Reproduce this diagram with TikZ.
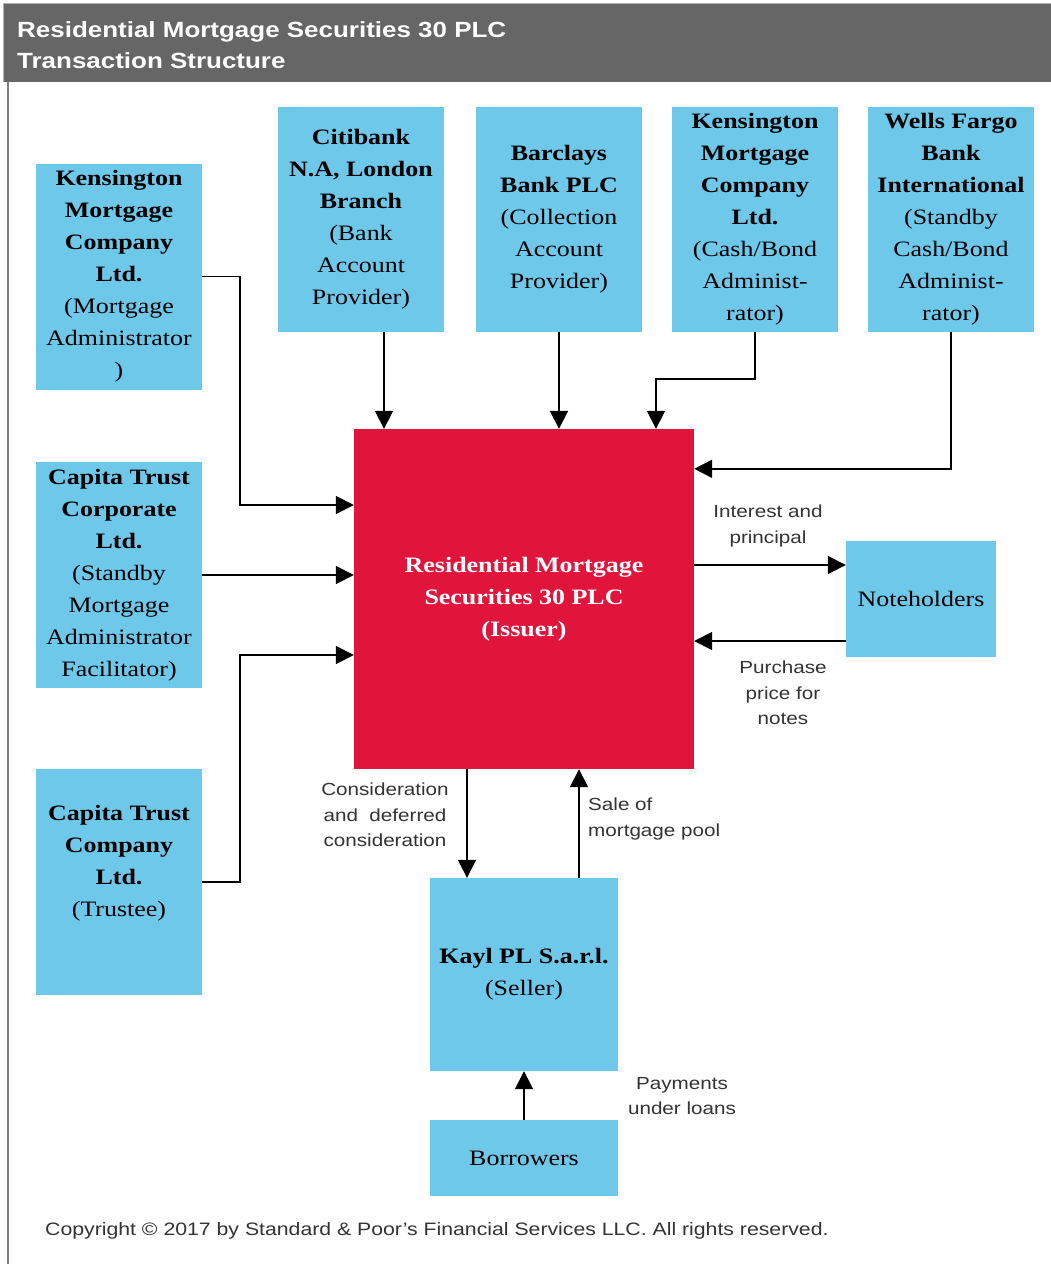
\documentclass[tikz,border=0pt]{standalone}
\usepackage{fontspec}
\setmainfont[FakeStretch=1.18]{Liberation Serif}
\setsansfont[FakeStretch=1.18]{Liberation Sans}
\usetikzlibrary{arrows.meta,positioning,calc}
\definecolor{rmsblue}{RGB}{110,200,234}
\definecolor{rmsred}{RGB}{225,20,59}
\definecolor{rmsgrey}{RGB}{102,102,102}

\begin{document}
\begin{tikzpicture}[x=1pt,y=-1pt,
    box/.style={fill=rmsblue,inner sep=0pt,minimum width=166pt,minimum height=226pt,
                align=center,font=\fontsize{22}{32}\selectfont},
    issuer/.style={fill=rmsred,inner sep=0pt,minimum width=340pt,minimum height=340pt,
                align=center,text=white,font=\fontsize{22}{32}\selectfont\bfseries},
    arr/.style={-{Triangle[length=18pt,width=18pt]},line width=1.8pt},
    lbl/.style={font=\sffamily\fontsize{17.5}{25.5}\selectfont,text=black!80,align=center,inner sep=0pt}
  ]
    \useasboundingbox (0,0) rectangle (1050,1264);
    % frame and title
    \fill[rmsgrey] (3,3) rectangle (1052,82);
    \draw[gray!60,line width=1pt] (3,82) -- (3,3) -- (1052,3);
    \draw[gray,line width=2.5pt] (8,82) -- (8,1264);
    \node[anchor=west,align=left,text=white,inner sep=0pt,
          font=\sffamily\bfseries\fontsize{22}{31}\selectfont] (title) at (17,45)
          {Residential Mortgage Securities 30 PLC\\Transaction Structure};

    % parties
    \node[box] (kadm) at (119,276.5) {\textbf{Kensington}\\\textbf{Mortgage}\\\textbf{Company}\\\textbf{Ltd.}\\(Mortgage\\Administrator\\)};
    \node[box] (ccorp) at (119,575) {\textbf{Capita Trust}\\\textbf{Corporate}\\\textbf{Ltd.}\\(Standby\\Mortgage\\Administrator\\Facilitator)};
    \node[box] (ccomp) at (119,882) {\textbf{Capita Trust}\\\textbf{Company}\\\textbf{Ltd.}\\(Trustee)\\\strut};
    \node[box,minimum height=225pt] (citi) at (361,219.5) {\textbf{Citibank}\\\textbf{N.A, London}\\\textbf{Branch}\\(Bank\\Account\\Provider)};
    \node[box,minimum height=225pt] (barc) at (559,219.5) {\textbf{Barclays}\\\textbf{Bank PLC}\\(Collection\\Account\\Provider)};
    \node[box,minimum height=225pt] (kcash) at (755,219.5) {\textbf{Kensington}\\\textbf{Mortgage}\\\textbf{Company}\\\textbf{Ltd.}\\(Cash/Bond\\Administ-\\rator)};
    \node[box,minimum height=225pt] (wells) at (951,219.5) {\textbf{Wells Fargo}\\\textbf{Bank}\\\textbf{International}\\(Standby\\Cash/Bond\\Administ-\\rator)};
    \node[issuer] (iss) at (524,599) {Residential Mortgage\\Securities 30 PLC\\(Issuer)};
    \node[box,minimum width=150pt,minimum height=116pt] (note) at (921,599) {Noteholders};
    \node[box,minimum width=188pt,minimum height=193pt] (kayl) at (524,974.5) {\textbf{Kayl PL S.a.r.l.}\\(Seller)};
    \node[box,minimum width=188pt,minimum height=76pt] (borr) at (524,1158) {Borrowers};

    % flows into the issuer
    \draw[arr] ([xshift=23pt]citi.south) -- ([xshift=23pt]citi.south |- iss.north);
    \draw[arr] (barc.south) -- (barc.south |- iss.north);
    \draw[arr] (kcash.south) -- ++(0,47) -| ([xshift=132pt]iss.north);
    \draw[arr] (wells.south) |- ([yshift=-40pt]iss.north east);
    \draw[arr] (kadm.east) -- ++(38,0) |- ([yshift=94pt]iss.west);
    \draw[arr] (ccorp.east) -- (ccorp.east -| iss.west);
    \draw[arr] (ccomp.east) -- ++(38,0) |- ([yshift=-56pt]iss.west);

    % notes
    \draw[arr] ([yshift=34pt]iss.east) -- ([yshift=34pt]iss.east -| note.west);
    \draw[arr] ([yshift=-42pt]note.west) -- ([yshift=-42pt]note.west -| iss.east);
    \node[lbl] (lint) at (768,526) {Interest and\\principal};
    \node[lbl] (lpur) at (783,693) {Purchase\\price for\\notes};

    % seller and borrowers
    \draw[arr] ([xshift=-57pt]iss.south) -- ([xshift=-57pt]iss.south |- kayl.north);
    \draw[arr] ([xshift=55pt]kayl.north) -- ([xshift=55pt]kayl.north |- iss.south);
    \draw[arr] (borr.north) -- (kayl.south);
    \node[lbl] (lcon) at (385,815) {Consideration\\and~~deferred\\consideration};
    \node[lbl,anchor=west,align=left] (lsale) at (588,819) {Sale of\\mortgage pool};
    \node[lbl] (lpay) at (682,1096) {Payments\\under loans};

    \node[lbl,anchor=west,font=\sffamily\fontsize{18}{25}\selectfont] (copy) at (45,1231) {Copyright \textcopyright{} 2017 by Standard \& Poor's Financial Services LLC. All rights reserved.};
\end{tikzpicture}
\end{document}
